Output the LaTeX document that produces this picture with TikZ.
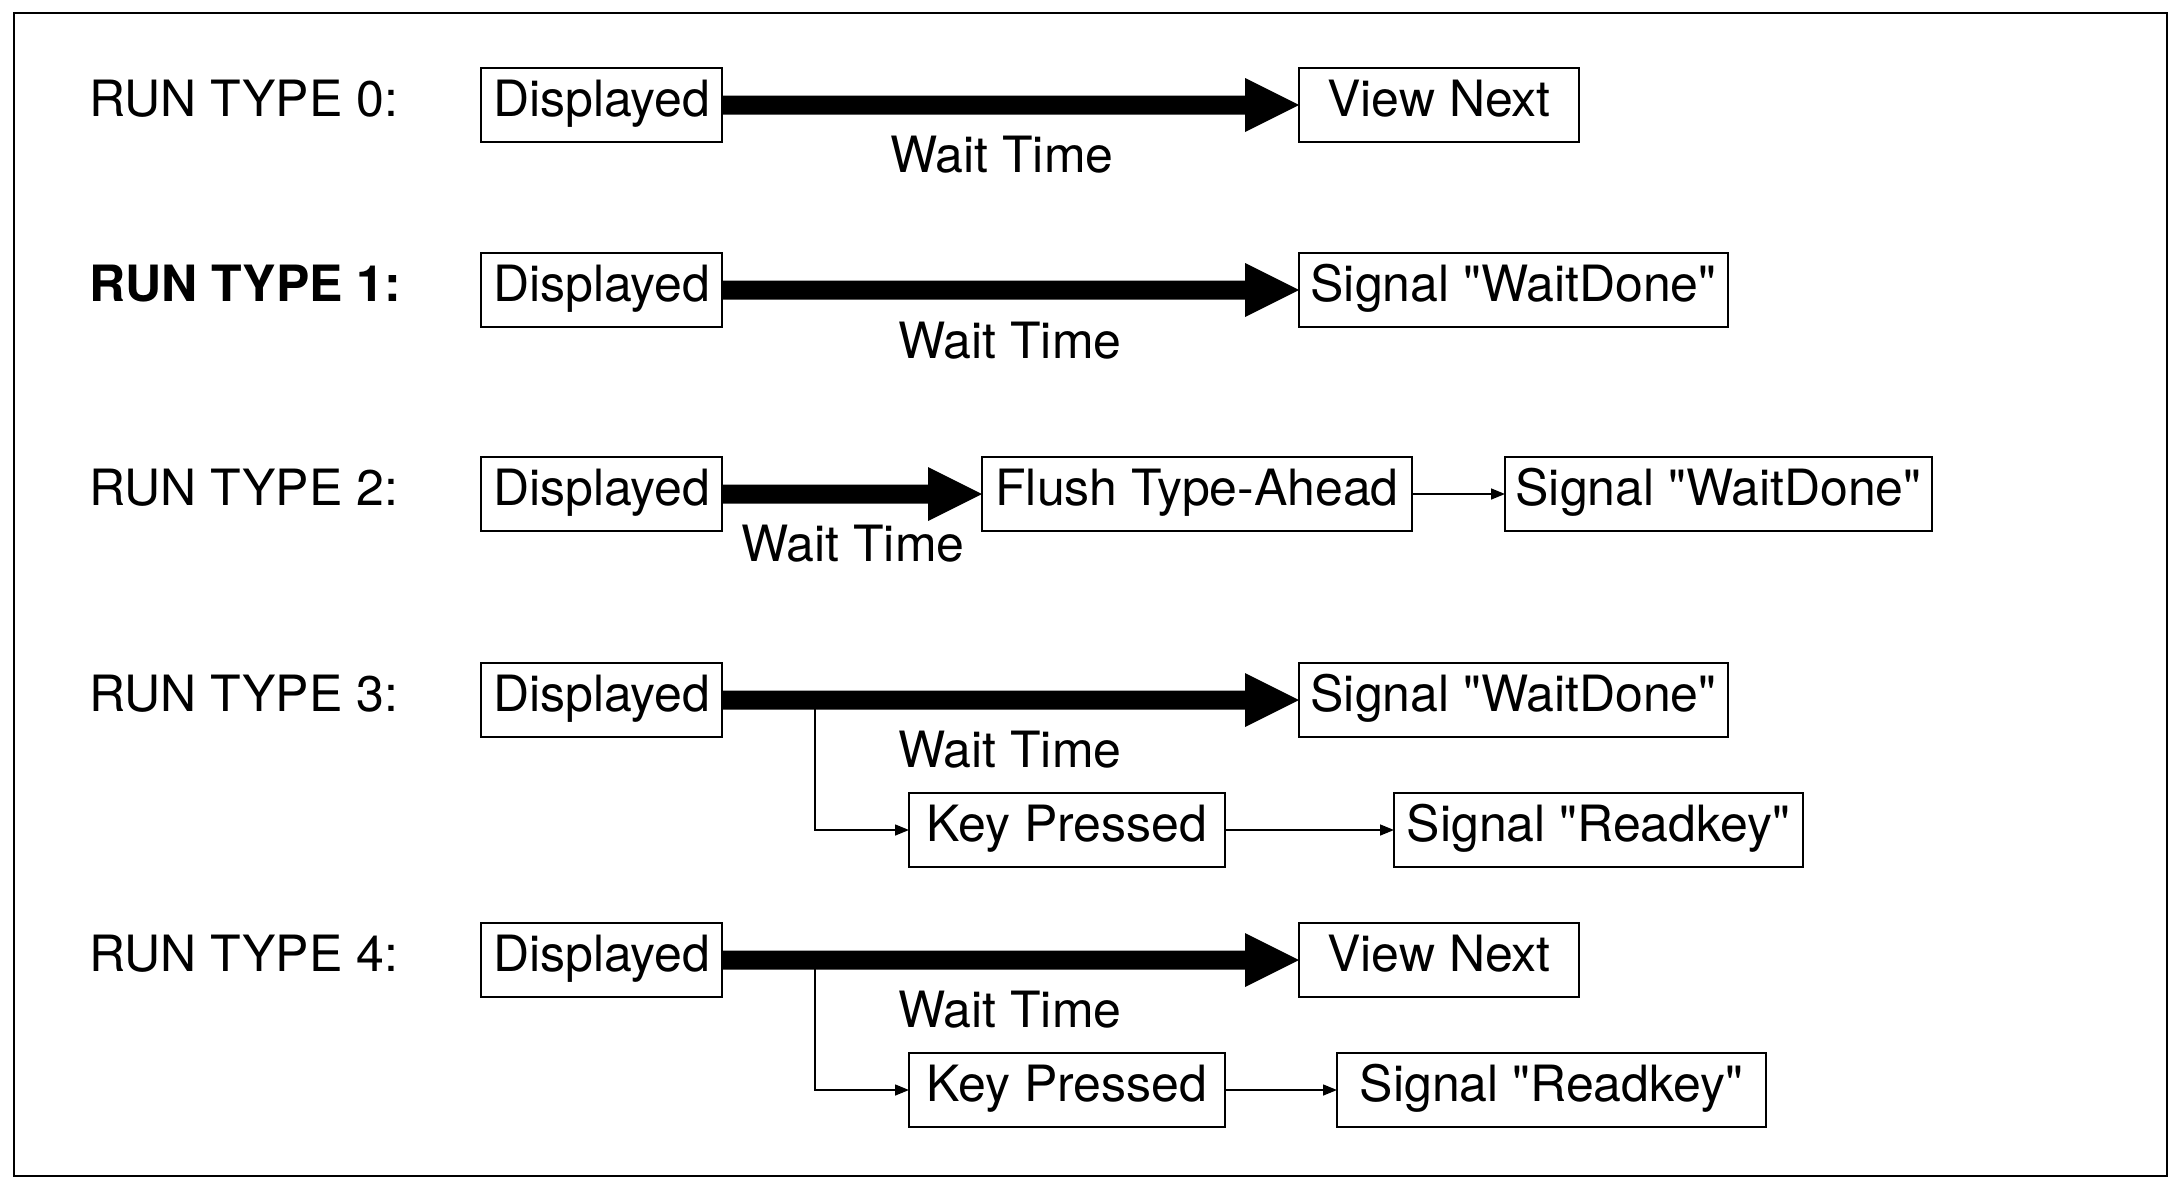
\documentclass[tikz,border=0pt]{standalone}
\usepackage{fontspec}
\setmainfont{TeX Gyre Heros}[Ligatures=TeXOff]
\usetikzlibrary{arrows.meta,calc}
\newcommand\fatarrow[2]{%
  \fill (#1.east) ++(0,-9.5) -- ($(#2.west)+(-54,-9.5)$) -- ($(#2.west)+(-54,-27)$)
    -- (#2.west) -- ($(#2.west)+(-54,27)$) -- ($(#2.west)+(-54,9.5)$)
    -- ($(#1.east)+(0,9.5)$) -- cycle;}
\begin{document}
\begin{tikzpicture}[x=0.5pt,y=-0.5pt,
  every node/.style={font=\fontsize{25}{30}\selectfont},
  box/.style={draw, line width=0.9pt, anchor=north west, inner xsep=3pt, inner ysep=0pt,
              outer sep=0pt, text height=24pt, text depth=13pt},
  lbl/.style={anchor=base west, inner sep=0pt},
  wt/.style={anchor=base, inner sep=0pt},
  thinarrow/.style={line width=0.75pt, -{Triangle[length=7pt,width=5.5pt]}}
]
\useasboundingbox (0,0) rectangle (2180,1178);
\draw[line width=1.2pt] (14,13) rectangle (2167,1176);

% Row 0
\node[lbl] (l0) at (89,116) {RUN TYPE 0:};
\node[box, minimum width=120.5pt] (d0) at (481,68) {Displayed};
\node[box, minimum width=140pt] (v0) at (1299,68) {View Next};
\fatarrow{d0}{v0}
\node[wt] (w0) at (1002,172) {Wait Time};

% Row 1
\node[lbl] (l1) at (89,301) {\textbf{RUN TYPE 1:}};
\node[box, minimum width=120.5pt] (d1) at (481,253) {Displayed};
\node[box, minimum width=214.5pt] (s1) at (1299,253) {Signal "WaitDone"};
\fatarrow{d1}{s1}
\node[wt] (w1) at (1010,358) {Wait Time};

% Row 2
\node[lbl] (l2) at (89,505) {RUN TYPE 2:};
\node[box, minimum width=120.5pt] (d2) at (481,457) {Displayed};
\node[box, minimum width=215pt] (f2) at (982,457) {Flush Type-Ahead};
\node[box, minimum width=213.5pt] (s2) at (1505,457) {Signal "WaitDone"};
\fatarrow{d2}{f2}
\draw[thinarrow] (f2.east) -- (s2.west);
\node[wt] (w2) at (853,561) {Wait Time};

% Row 3
\node[lbl] (l3) at (89,711) {RUN TYPE 3:};
\node[box, minimum width=120.5pt] (d3) at (481,663) {Displayed};
\node[box, minimum width=214.5pt] (s3) at (1299,663) {Signal "WaitDone"};
\node[box, minimum width=158pt] (k3) at (909,793) {Key Pressed};
\node[box, minimum width=204.5pt] (r3) at (1394,793) {Signal "Readkey"};
\coordinate (b3) at (815,700);
\draw[thinarrow] (b3) |- (k3.west);
\fatarrow{d3}{s3}
\draw[thinarrow] (k3.east) -- (r3.west);
\node[wt] (w3) at (1010,767) {Wait Time};

% Row 4
\node[lbl] (l4) at (89,971) {RUN TYPE 4:};
\node[box, minimum width=120.5pt] (d4) at (481,923) {Displayed};
\node[box, minimum width=140pt] (v4) at (1299,923) {View Next};
\node[box, minimum width=158pt] (k4) at (909,1053) {Key Pressed};
\node[box, minimum width=214.5pt] (r4) at (1337,1053) {Signal "Readkey"};
\coordinate (b4) at (815,960);
\draw[thinarrow] (b4) |- (k4.west);
\fatarrow{d4}{v4}
\draw[thinarrow] (k4.east) -- (r4.west);
\node[wt] (w4) at (1010,1027) {Wait Time};
\end{tikzpicture}
\end{document}
